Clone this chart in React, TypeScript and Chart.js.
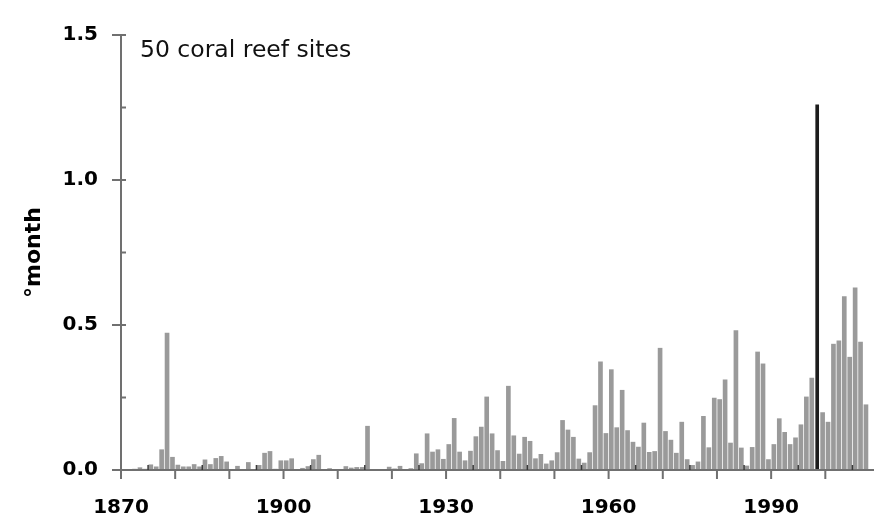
import React, { useEffect, useRef } from "react";
import { Chart, registerables } from "chart.js";

Chart.register(...registerables);

// ---- Data (annual values) ----
const firstYear = 1870;
const v1870s = [0, 0, 0.003, 0.008, 0.003, 0.018, 0.011, 0.07, 0.472, 0.044];
const v1880s = [0.017, 0.011, 0.011, 0.019, 0.011, 0.035, 0.019, 0.04, 0.047, 0.028];
const v1890s = [0, 0.013, 0.002, 0.026, 0, 0.016, 0.058, 0.064, 0.003, 0.032];
const v1900s = [0.032, 0.039, 0.002, 0.006, 0.012, 0.036, 0.051, 0.002, 0.005, 0];
const v1910s = [0, 0.012, 0.007, 0.009, 0.009, 0.151, 0, 0, 0, 0.01];
const v1920s = [0.004, 0.013, 0.002, 0.005, 0.056, 0.022, 0.125, 0.062, 0.07, 0.037];
const v1930s = [0.088, 0.178, 0.062, 0.032, 0.065, 0.115, 0.148, 0.252, 0.125, 0.067];
const v1940s = [0.03, 0.289, 0.118, 0.055, 0.113, 0.099, 0.039, 0.054, 0.021, 0.032];
const v1950s = [0.06, 0.171, 0.138, 0.113, 0.038, 0.024, 0.06, 0.222, 0.373, 0.126];
const v1960s = [0.346, 0.146, 0.275, 0.136, 0.096, 0.079, 0.162, 0.061, 0.064, 0.42];
const v1970s = [0.133, 0.103, 0.058, 0.165, 0.036, 0.016, 0.028, 0.185, 0.077, 0.248];
const v1980s = [0.243, 0.311, 0.093, 0.481, 0.076, 0.014, 0.078, 0.407, 0.366, 0.036];
const v1990s = [0.088, 0.177, 0.13, 0.088, 0.111, 0.156, 0.252, 0.317, null, 0.198];
const v2000s = [0.165, 0.434, 0.445, 0.598, 0.389, 0.628, 0.441, 0.225];

const highlightYears = [1998];
const highlightValues = [1.259];

const xLabelYears = [1870, 1900, 1930, 1960, 1990];
const xDecadeTicks = [1870, 1880, 1890, 1900, 1910, 1920, 1930, 1940, 1950, 1960, 1970, 1980, 1990, 2000];
const xHalfDecadeTicks = [1875, 1885, 1895, 1905, 1915, 1925, 1935, 1945, 1955, 1965, 1975, 1985, 1995, 2005];
const yMajorTicks = [0, 0.5, 1.0, 1.5];
const yMinorTicks = [0.25, 0.75, 1.25];

const annotationText = "50 coral reef sites";
const yTitle = "°month";

const allValues = [
  ...v1870s, ...v1880s, ...v1890s, ...v1900s, ...v1910s, ...v1920s, ...v1930s,
  ...v1940s, ...v1950s, ...v1960s, ...v1970s, ...v1980s, ...v1990s, ...v2000s,
];

const FONT = "DejaVu Sans";

const decorPlugin = {
  id: "decor",
  afterDatasetsDraw(chart: any) {
    const { ctx, chartArea: a, scales } = chart;
    const x = scales.x;
    const y = scales.y;
    ctx.save();
    ctx.strokeStyle = "#707070";
    ctx.lineWidth = 2;
    ctx.beginPath();
    ctx.moveTo(a.left, a.top - 1);
    ctx.lineTo(a.left, a.bottom);
    ctx.moveTo(a.left - 9, a.bottom);
    ctx.lineTo(a.right + 1, a.bottom);
    yMajorTicks.forEach((v) => {
      const py = y.getPixelForValue(v);
      ctx.moveTo(a.left - 9, py);
      ctx.lineTo(a.left + 5, py);
    });
    yMinorTicks.forEach((v) => {
      const py = y.getPixelForValue(v);
      ctx.moveTo(a.left, py);
      ctx.lineTo(a.left + 5, py);
    });
    xDecadeTicks.forEach((v) => {
      const px = x.getPixelForValue(v);
      ctx.moveTo(px, a.bottom);
      ctx.lineTo(px, a.bottom + 9);
    });
    ctx.stroke();
    ctx.strokeStyle = "#3a3a3a";
    ctx.lineWidth = 1.5;
    ctx.beginPath();
    xHalfDecadeTicks.forEach((v) => {
      const px = x.getPixelForValue(v);
      ctx.moveTo(px, a.bottom);
      ctx.lineTo(px, a.bottom - 5);
    });
    ctx.stroke();
    // annotation
    ctx.fillStyle = "#111";
    ctx.font = `23.5px "${FONT}"`;
    ctx.textAlign = "left";
    ctx.textBaseline = "alphabetic";
    ctx.fillText(annotationText, a.left + 19, 56.5);
    ctx.restore();
  },
};

export default function App() {
  const ref = useRef<HTMLCanvasElement | null>(null);

  useEffect(() => {
    if (!ref.current) return;
    const grayData = allValues.map((v, i) => ({ x: firstYear + i + 0.5, y: v }));
    const blackData = highlightYears.map((yr, i) => ({ x: yr + 0.5, y: highlightValues[i] }));
    const tickFont = { family: FONT, weight: "bold" as const, size: 20 };
    const titleFont = { family: FONT, weight: "bold" as const, size: 22 };

    const chart = new Chart(ref.current, {
      type: "bar",
      data: {
        datasets: [
          {
            data: grayData as any,
            backgroundColor: "#9a9a9a",
            barThickness: 4,
            grouped: false,
          } as any,
          {
            data: blackData as any,
            backgroundColor: "#1c1c1c",
            barThickness: 3,
            grouped: false,
          } as any,
        ],
      },
      options: {
        animation: false,
        responsive: false,
        devicePixelRatio: 1,
        layout: { padding: { top: 22, right: 1, left: 0, bottom: 0 } },
        plugins: { legend: { display: false }, tooltip: { enabled: false } },
        scales: {
          x: {
            type: "linear",
            min: 1870,
            max: 2008.8,
            offset: false,
            grid: { display: false, drawTicks: false },
            border: { display: false },
            afterBuildTicks: (s: any) => {
              s.ticks = xLabelYears.map((v) => ({ value: v }));
            },
            afterFit: (s: any) => {
              s.height = 51;
            },
            ticks: {
              autoSkip: false,
              maxRotation: 0,
              padding: 26,
              color: "#000",
              font: tickFont,
              callback: (v: any) => String(v),
            },
          },
          y: {
            min: 0,
            max: 1.5,
            grid: { display: false, drawTicks: false },
            border: { display: false },
            afterBuildTicks: (s: any) => {
              s.ticks = yMajorTicks.map((v) => ({ value: v }));
            },
            afterFit: (s: any) => {
              s.width = 121;
            },
            ticks: {
              padding: 23,
              color: "#000",
              font: tickFont,
              callback: (v: any) => Number(v).toFixed(1),
            },
            title: {
              display: true,
              text: yTitle,
              color: "#000",
              font: titleFont,
              padding: { top: 21, bottom: 0 },
            },
          },
        },
      } as any,
      plugins: [decorPlugin],
    });
    return () => chart.destroy();
  }, []);

  return (
    <div style={{ position: "fixed", left: 0, top: 0, width: 874, height: 521, background: "#fff" }}>
      <canvas ref={ref} width={874} height={521} style={{ display: "block" }} />
    </div>
  );
}
